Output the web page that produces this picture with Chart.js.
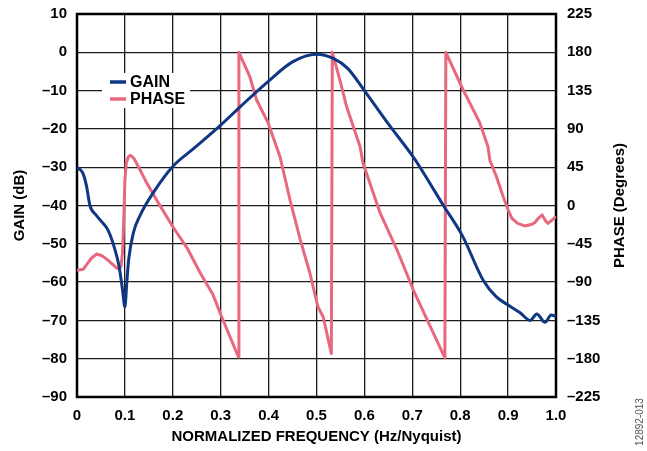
<!DOCTYPE html>
<html>
<head>
<meta charset="utf-8">
<script src="https://cdn.jsdelivr.net/npm/chart.js@4.4.1/dist/chart.umd.min.js"></script>
<style>
  html, body { margin: 0; padding: 0; background: #fff; }
  #wrap { width: 647px; height: 451px; }
</style>
</head>
<body>
<div id="wrap"><canvas id="filterChart" width="647" height="451"></canvas></div>
<script>
// gain response, normalized frequency vs dB
var gainFreq = [0, 0.012, 0.02, 0.027, 0.04, 0.05, 0.065, 0.078, 0.088, 0.095, 0.1, 0.104, 0.108, 0.118, 0.132, 0.16, 0.2, 0.24, 0.3, 0.34, 0.4, 0.45, 0.5, 0.535, 0.565, 0.6, 0.65, 0.7, 0.716, 0.765, 0.805, 0.848, 0.875, 0.9, 0.925, 0.946, 0.96, 0.977, 0.99, 1.0];
var gainDb = [-30, -31.5, -35, -40, -42.5, -44, -46.5, -51, -56, -62, -66.5, -60, -54, -47, -42.5, -36.5, -29.8, -25.5, -19, -14.3, -7.5, -2.5, -0.5, -1.6, -4.2, -10, -18.7, -27, -30, -40, -48, -59.5, -63.8, -66, -68, -70, -68.3, -70.5, -68.6, -69];

// phase response (wraps at +/-180)
var phaseFreq = [0, 0.013, 0.022, 0.03, 0.041, 0.052, 0.062, 0.072, 0.082, 0.088, 0.092, 0.095, 0.098, 0.1, 0.103, 0.107, 0.111, 0.118, 0.125, 0.146, 0.17, 0.2, 0.23, 0.257, 0.284, 0.3, 0.337, 0.338, 0.361, 0.375, 0.399, 0.424, 0.445, 0.466, 0.486, 0.503, 0.514, 0.531, 0.533, 0.549, 0.563, 0.591, 0.597, 0.633, 0.668, 0.702, 0.768, 0.77, 0.806, 0.841, 0.858, 0.862, 0.875, 0.89, 0.9, 0.908, 0.92, 0.935, 0.95, 0.956, 0.963, 0.971, 0.978, 0.983, 0.992, 1.0];
var phaseDeg = [-76, -75, -68, -62, -57, -59, -63, -68, -73, -75, -71, -55, -10, 30, 50, 57, 59, 56, 49, 26, 3, -25, -50, -79, -105, -128, -178, 180, 151, 124, 97, 57, 6, -40, -79, -119, -131, -174, 180, 147, 116, 69, 50, -9, -52, -99, -179, 180, 136, 97, 69, 53, 35, 10, -5, -15, -21, -24, -22, -20, -15, -11, -18, -21, -17, -13];

var freqTicks = [0, 0.1, 0.2, 0.3, 0.4, 0.5, 0.6, 0.7, 0.8, 0.9, 1.0];
var freqTickLabels = ['0', '0.1', '0.2', '0.3', '0.4', '0.5', '0.6', '0.7', '0.8', '0.9', '1.0'];
var gainTicks = [10, 0, -10, -20, -30, -40, -50, -60, -70, -80, -90];
var phaseTicks = [225, 180, 135, 90, 45, 0, -45, -90, -135, -180, -225];

var seriesNames = ['GAIN', 'PHASE'];
var seriesColors = ['#0f3783', '#e8687f'];

var FONT = "'Liberation Sans', Arial, sans-serif";
var GRID = '#1c1c1c';

function dashLabel(v) {
  return v < 0 ? '\u2013' + Math.abs(v) : String(v);
}

function pairs(xs, ys) {
  return xs.map(function(x, i) { return { x: x, y: ys[i] }; });
}

function fixedTicks(list) {
  return function(scale) {
    scale.ticks = list.map(function(v) { return { value: v }; });
  };
}

// pin the axis boxes so the plot area sits where it should
function fitBox(w, h) {
  return function(s) {
    if (w) s.width = w;
    if (h) s.height = h;
    s.paddingTop = 0;
    s.paddingBottom = 0;
    s.paddingLeft = 0;
    s.paddingRight = 0;
  };
}

// frame, inset legend, right-hand title reading upwards, figure number
var frameLegend = {
  id: 'frameLegend',
  beforeDatasetsDraw: function(chart) {
    var ctx = chart.ctx, a = chart.chartArea;
    ctx.save();
    ctx.strokeStyle = '#000';
    ctx.lineWidth = 2.5;
    ctx.strokeRect(a.left, a.top, a.right - a.left, a.bottom - a.top);

    var bx = a.left + 25, by = a.top + 59;
    ctx.fillStyle = '#fff';
    ctx.fillRect(bx, by, 88, 35);
    ctx.font = 'bold 16px ' + FONT;
    ctx.textBaseline = 'middle';
    for (var i = 0; i < seriesNames.length; i++) {
      var ly = by + 9 + i * 17;
      ctx.strokeStyle = seriesColors[i];
      ctx.lineWidth = 3.5;
      ctx.beginPath();
      ctx.moveTo(bx + 8, ly);
      ctx.lineTo(bx + 24, ly);
      ctx.stroke();
      ctx.fillStyle = '#000';
      ctx.fillText(seriesNames[i], bx + 28, ly + 1);
    }
    ctx.restore();
  },
  afterDraw: function(chart) {
    var ctx = chart.ctx, a = chart.chartArea;
    ctx.save();
    ctx.translate(620, (a.top + a.bottom) / 2);
    ctx.rotate(-Math.PI / 2);
    ctx.font = 'bold 15px ' + FONT;
    ctx.fillStyle = '#000';
    ctx.textAlign = 'center';
    ctx.textBaseline = 'middle';
    ctx.fillText('PHASE (Degrees)', 0, 0);
    ctx.restore();

    ctx.save();
    ctx.translate(640, 422);
    ctx.rotate(-Math.PI / 2);
    ctx.font = '10px ' + FONT;
    ctx.fillStyle = '#555';
    ctx.textAlign = 'center';
    ctx.textBaseline = 'middle';
    ctx.fillText('12892-013', 0, 0);
    ctx.restore();
  }
};

var tickFont = { family: FONT, size: 15, weight: 'bold' };

new Chart(document.getElementById('filterChart').getContext('2d'), {
  type: 'line',
  data: {
    datasets: [{
      label: seriesNames[0],
      data: pairs(gainFreq, gainDb),
      yAxisID: 'y',
      borderColor: seriesColors[0],
      borderWidth: 3,
      cubicInterpolationMode: 'monotone'
    }, {
      label: seriesNames[1],
      data: pairs(phaseFreq, phaseDeg),
      yAxisID: 'y2',
      borderColor: seriesColors[1],
      borderWidth: 3,
      tension: 0
    }]
  },
  options: {
    responsive: false,
    animation: false,
    layout: { padding: { top: 14, left: 0, right: 0, bottom: 0 } },
    elements: { point: { radius: 0 }, line: { borderJoinStyle: 'round' } },
    plugins: { legend: { display: false }, tooltip: { enabled: false } },
    scales: {
      x: {
        type: 'linear',
        min: 0,
        max: 1,
        afterBuildTicks: fixedTicks(freqTicks),
        afterFit: fitBox(0, 54),
        grid: { color: GRID, lineWidth: 1.3, drawTicks: false },
        border: { display: false },
        ticks: {
          padding: 10,
          color: '#000',
          font: tickFont,
          maxRotation: 0,
          callback: function(v, i) { return freqTickLabels[i]; }
        },
        title: {
          display: true,
          text: 'NORMALIZED FREQUENCY (Hz/Nyquist)',
          color: '#000',
          font: tickFont,
          padding: { top: 0, bottom: 5 }
        }
      },
      y: {
        position: 'left',
        min: -90,
        max: 10,
        afterBuildTicks: fixedTicks(gainTicks),
        afterFit: fitBox(77, 0),
        grid: { color: GRID, lineWidth: 1.3, drawTicks: false },
        border: { display: false },
        ticks: { padding: 10, color: '#000', font: tickFont, callback: dashLabel },
        title: {
          display: true,
          text: 'GAIN (dB)',
          color: '#000',
          font: tickFont,
          padding: { top: 11, bottom: 0 }
        }
      },
      y2: {
        position: 'right',
        min: -225,
        max: 225,
        afterBuildTicks: fixedTicks(phaseTicks),
        afterFit: fitBox(91, 0),
        grid: { drawOnChartArea: false, drawTicks: false },
        border: { display: false },
        ticks: { padding: 11, color: '#000', font: tickFont, callback: dashLabel }
      }
    }
  },
  plugins: [frameLegend]
});
</script>
</body>
</html>
